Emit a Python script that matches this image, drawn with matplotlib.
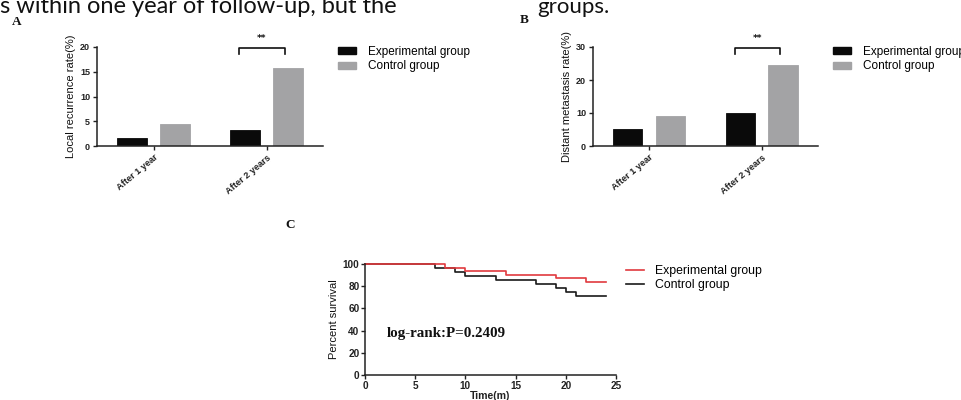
import numpy as np
import matplotlib
matplotlib.use("Agg")
import matplotlib.pyplot as plt
from matplotlib.patches import Patch
from matplotlib.lines import Line2D

# ---------------- data ----------------
categories = ["After 1 year", "After 2 years"]
series_names = ["Experimental group", "Control group"]
local_exp = [1.7, 3.3]
local_ctrl = [4.5, 15.7]
distant_exp = [5.1, 10.1]
distant_ctrl = [9.0, 24.5]

exp_time = [0, 8, 10, 14, 19, 22, 24]
exp_surv = [100, 96.8, 93.5, 90.3, 87.1, 83.9, 83.9]
ctrl_time = [0, 7, 9, 10, 13, 17, 19, 20, 21, 24]
ctrl_surv = [100, 96.4, 92.9, 89.3, 85.7, 82.1, 78.6, 75.0, 71.4, 71.4]

W, H = 962, 400
fig = plt.figure(figsize=(W / 100, H / 100), dpi=100)
fig.patch.set_facecolor("white")

NARROW = ["Liberation Sans Narrow", "Liberation Sans", "DejaVu Sans"]
SANS = ["Liberation Sans", "DejaVu Sans"]
SERIF = ["Liberation Serif", "DejaVu Serif"]

def ax_px(left, right, top, bottom):
    return fig.add_axes([left / W, 1 - bottom / H, (right - left) / W, (bottom - top) / H])

BLACK = "#0a0a0a"
GREY = "#a3a3a5"

def bar_panel(left, right, ylabel, exp, ctrl, ymax, step, leg_x):
    ax = ax_px(left, right, 47, 146)
    x = np.arange(len(categories))
    off, bw = 0.19, 0.26
    ax.bar(x - off, exp, bw, color=BLACK, edgecolor=BLACK, linewidth=0.6)
    ax.bar(x + off, ctrl, bw, color=GREY, edgecolor=GREY, linewidth=0.6)
    ax.set_xlim(-0.5, 1.5)
    ax.set_ylim(0, ymax)
    ax.set_yticks(np.arange(0, ymax + 0.1, step))
    ax.set_xticks(x)
    ax.set_xticklabels(categories, rotation=40, ha="right", rotation_mode="anchor",
                       fontsize=6.6, family=NARROW, fontweight="bold", color="#222222")
    for lab in ax.get_yticklabels():
        lab.set_fontsize(6.5)
        lab.set_fontweight("bold")
        lab.set_family(SANS)
        lab.set_color("#222222")
    ax.set_ylabel(ylabel, fontsize=8, family=NARROW, color="#111111", labelpad=3)
    for s in ["top", "right"]:
        ax.spines[s].set_visible(False)
    for s in ["left", "bottom"]:
        ax.spines[s].set_linewidth(1.1)
        ax.spines[s].set_color("#222222")
    ax.tick_params(axis="both", direction="out", length=3, width=1.0, colors="#222222", pad=2)
    # significance bracket
    xl = x[1] - off - 0.05
    xr = x[1] + off - 0.03
    yt = ymax * 0.99
    yf = ymax * 0.93
    ax.plot([xl, xl, xr, xr], [yf, yt, yt, yf], color="#111111", lw=1.2, clip_on=False)
    ax.text((xl + xr) / 2, ymax * 1.04, "**", ha="center", va="bottom", fontsize=6.5,
            color="#111111", fontweight="bold")
    handles = [Patch(facecolor=BLACK, edgecolor=BLACK), Patch(facecolor=GREY, edgecolor=GREY)]
    fig.legend(handles, series_names, loc="upper left", bbox_to_anchor=(leg_x / W, 1 - 46 / H),
               frameon=False, prop={"family": SANS, "size": 8.5},
               handlelength=1.5, handleheight=0.55, handletextpad=1.0,
               labelspacing=0.2, borderpad=0, borderaxespad=0)
    return ax

bar_panel(97, 323, "Local recurrence rate(%)", local_exp, local_ctrl, 20, 5, 338)
bar_panel(593, 818, "Distant metastasis rate(%)", distant_exp, distant_ctrl, 30, 10, 833)

# ---------------- survival panel ----------------
axc = ax_px(365, 616, 264, 375)
axc.step(ctrl_time, ctrl_surv, where="post", color="#1a1a1a", lw=1.2, clip_on=False)
axc.step(exp_time, exp_surv, where="post", color="#e03a3e", lw=1.2, clip_on=False)
axc.set_xlim(0, 25)
axc.set_ylim(0, 100)
axc.set_xticks(np.arange(0, 26, 5))
axc.set_yticks(np.arange(0, 101, 20))
for lab in axc.get_xticklabels() + axc.get_yticklabels():
    lab.set_fontsize(7.2)
    lab.set_fontweight("bold")
    lab.set_family(SANS)
    lab.set_color("#222222")
for s in ["top", "right"]:
    axc.spines[s].set_visible(False)
for s in ["left", "bottom"]:
    axc.spines[s].set_linewidth(1.1)
    axc.spines[s].set_color("#222222")
axc.tick_params(axis="both", direction="out", length=3, width=1.0, colors="#222222", pad=1)
axc.set_xlabel("Time(m)", fontsize=7.6, fontweight="bold", family=SANS, labelpad=0, color="#222222")
axc.set_ylabel("Percent survival", fontsize=8, family=NARROW, labelpad=3, color="#111111")
axc.text(0.085, 0.37, "log-rank:P=0.2409", transform=axc.transAxes, fontsize=10.8,
         fontweight="bold", family=SERIF, color="#111111", va="center")
lh = [Line2D([0], [0], color="#e03a3e", lw=1.2), Line2D([0], [0], color="#1a1a1a", lw=1.2)]
fig.legend(lh, series_names, loc="upper left", bbox_to_anchor=(626 / W, 1 - 265 / H),
           frameon=False, prop={"family": SANS, "size": 8.8},
           handlelength=1.5, handletextpad=0.9, labelspacing=0.2,
           borderpad=0, borderaxespad=0)

# ---------------- panel letters and cut text ----------------
for letter, px, py in [("A", 12, 22), ("B", 520, 20), ("C", 285, 225)]:
    fig.text(px / W, 1 - py / H, letter, fontsize=9.5, fontweight="bold", family=SERIF,
             ha="left", va="center", color="#111111")

fig.text(0 / W, 1 - 13 / H, "s within one year of follow-up, but the", fontsize=17,
         family=["Lato", "DejaVu Sans"], ha="left", va="baseline", color="#111111")
fig.text(537 / W, 1 - 13 / H, "groups.", fontsize=16,
         family=["Lato", "DejaVu Sans"], ha="left", va="baseline", color="#111111")

fig.savefig("out.png", dpi=100, facecolor="white")
